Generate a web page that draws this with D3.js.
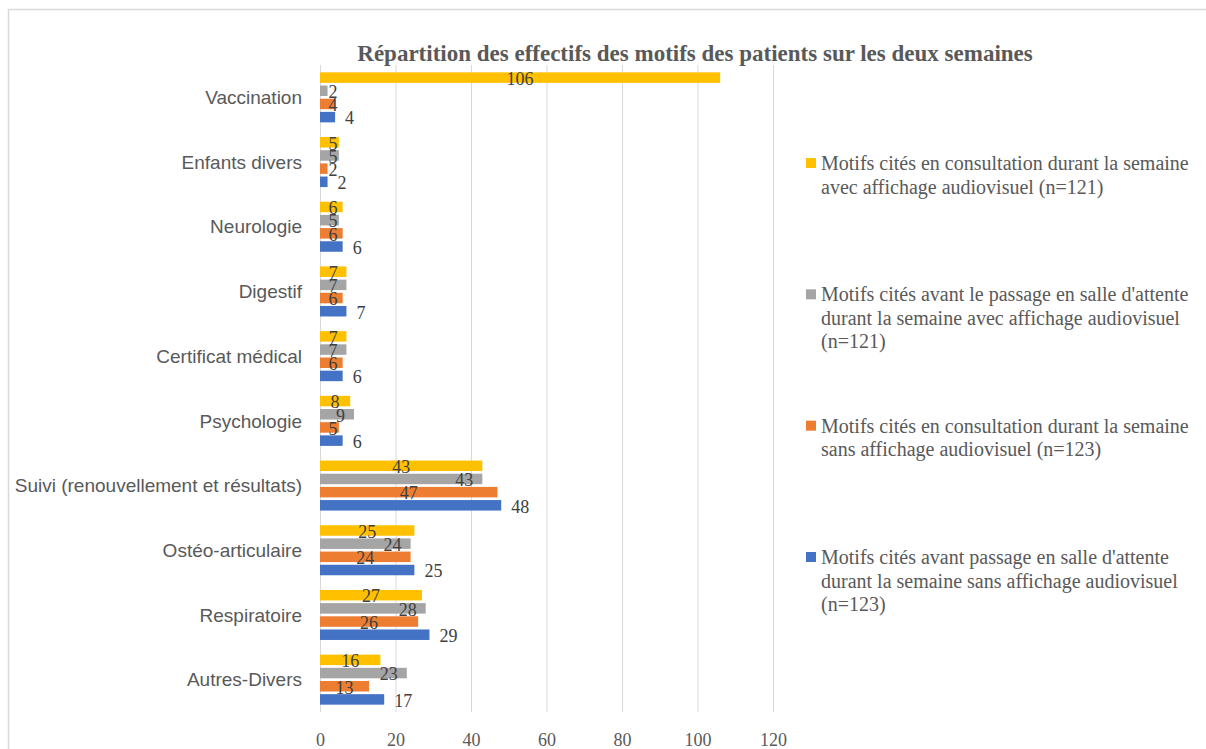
<!DOCTYPE html>
<html>
<head>
<meta charset="utf-8">
<script src="https://cdn.jsdelivr.net/npm/d3@7"></script>
<style>
  body { margin: 0; background: #fff; }
  svg { display: block; }
</style>
</head>
<body>
<div id="chart"></div>
<script>
// categories, top to bottom
const categories = ["Vaccination", "Enfants divers", "Neurologie", "Digestif", "Certificat médical",
    "Psychologie", "Suivi (renouvellement et résultats)", "Ostéo-articulaire", "Respiratoire", "Autres-Divers"];

// one array per series (same order as categories)
const consultAvec = [106, 5, 6, 7, 7, 8, 43, 25, 27, 16];
const avantAvec   = [2, 5, 5, 7, 7, 9, 43, 24, 28, 23];
const consultSans = [4, 2, 6, 6, 6, 5, 47, 24, 26, 13];
const avantSans   = [4, 2, 6, 7, 6, 6, 48, 25, 29, 17];

const seriesNames = [
    ["Motifs cités en consultation durant la semaine", "avec affichage audiovisuel (n=121)"],
    ["Motifs cités avant le passage en salle d'attente", "durant la semaine avec affichage audiovisuel", "(n=121)"],
    ["Motifs cités en consultation durant la semaine", "sans affichage audiovisuel (n=123)"],
    ["Motifs cités avant passage en salle d'attente", "durant la semaine sans affichage audiovisuel", "(n=123)"]
];
const xTicks = [0, 20, 40, 60, 80, 100, 120];
const title = "Répartition des effectifs des motifs des patients sur les deux semaines";

const W = 1206, H = 749;
const colors = ["#FFC000", "#A5A5A5", "#ED7D31", "#4472C4"];
// label placement per series: center, inside end, center, outside end
const labelPos = ["center", "insideEnd", "center", "outsideEnd"];
const serif = "'Liberation Serif', 'Times New Roman', serif";

const svg = d3.select("#chart").append("svg")
    .attr("width", W)
    .attr("height", H);

// chart frame
svg.append("rect")
    .attr("x", 8.5).attr("y", 9.5)
    .attr("width", 1230).attr("height", 780)
    .attr("fill", "none")
    .attr("stroke", "#d9d9d9")
    .attr("stroke-width", 1.5);

// title
svg.append("text")
    .attr("x", 695).attr("y", 61)
    .attr("text-anchor", "middle")
    .attr("font-family", serif)
    .attr("font-weight", "bold")
    .attr("font-size", 23)
    .attr("fill", "#595959")
    .text(title);

// scales
const x = d3.scaleLinear().domain([0, 120]).range([320, 773]);
const y = d3.scaleBand().domain(categories).range([65, 712]);
const ySub = d3.scaleBand().domain([0, 1, 2, 3])
    .range([6, y.bandwidth() - 6]);

// gridlines
svg.append("g")
    .selectAll("line")
    .data(xTicks)
    .join("line")
    .attr("x1", d => x(d) + 0.5).attr("x2", d => x(d) + 0.5)
    .attr("y1", 65).attr("y2", 712)
    .attr("stroke", "#d9d9d9")
    .attr("stroke-width", 1);

// x axis labels
const xAxis = d3.axisBottom(x).tickValues(xTicks).tickSize(0).tickPadding(0);
const gx = svg.append("g")
    .attr("transform", "translate(0,730)")
    .call(xAxis);
gx.select(".domain").remove();
gx.selectAll("text")
    .attr("dy", "0.9em")
    .attr("font-family", serif)
    .attr("font-size", 18)
    .attr("fill", "#595959");

// category labels
svg.append("g")
    .selectAll("text")
    .data(categories)
    .join("text")
    .attr("x", 302)
    .attr("y", d => y(d) + y.bandwidth() / 2)
    .attr("dy", "0.35em")
    .attr("text-anchor", "end")
    .attr("font-family", "'Liberation Sans', Arial, sans-serif")
    .attr("font-size", 19)
    .attr("fill", "#595959")
    .text(d => d);

// bars
const allSeries = [consultAvec, avantAvec, consultSans, avantSans];
const rows = [];
allSeries.forEach((vals, s) => {
    vals.forEach((v, i) => rows.push({s: s, cat: categories[i], v: v}));
});

const barH = 10.5;
const barY = d => y(d.cat) + ySub(d.s) + (ySub.bandwidth() - barH) / 2;

svg.append("g")
    .selectAll("rect")
    .data(rows)
    .join("rect")
    .attr("x", x(0))
    .attr("y", barY)
    .attr("width", d => x(d.v) - x(0))
    .attr("height", barH)
    .attr("fill", d => colors[d.s]);

// data labels
const labels = svg.append("g")
    .selectAll("text")
    .data(rows)
    .join("text")
    .attr("y", d => barY(d) + barH / 2 + 1)
    .attr("dy", "0.35em")
    .attr("font-family", serif)
    .attr("font-size", 18)
    .attr("fill", "#404040")
    .text(d => d.v);

labels.each(function(d) {
    const w = this.getComputedTextLength();
    const end = x(d.v);
    let left;
    if (labelPos[d.s] === "center") left = (x(0) + end) / 2 - w / 2;
    else if (labelPos[d.s] === "insideEnd") left = end - 9 - w;
    else left = end + 10;
    if (labelPos[d.s] !== "outsideEnd") left = Math.max(left, 328.5);
    d3.select(this).attr("x", left);
});

// legend
const legendTop = d3.scaleLinear().domain([0, 3]).range([163, 557]);
const legend = svg.append("g")
    .selectAll("g")
    .data(seriesNames)
    .join("g")
    .attr("transform", (d, i) => "translate(806," + legendTop(i) + ")");

legend.append("rect")
    .attr("x", 0).attr("y", -5)
    .attr("width", 10).attr("height", 10)
    .attr("fill", (d, i) => colors[i]);

legend.append("text")
    .attr("font-family", serif)
    .attr("font-size", 20)
    .attr("fill", "#595959")
    .selectAll("tspan")
    .data(d => d)
    .join("tspan")
    .attr("x", 15)
    .attr("y", (d, j) => j * 23.5)
    .attr("dy", "0.35em")
    .text(d => d);
</script>
</body>
</html>
